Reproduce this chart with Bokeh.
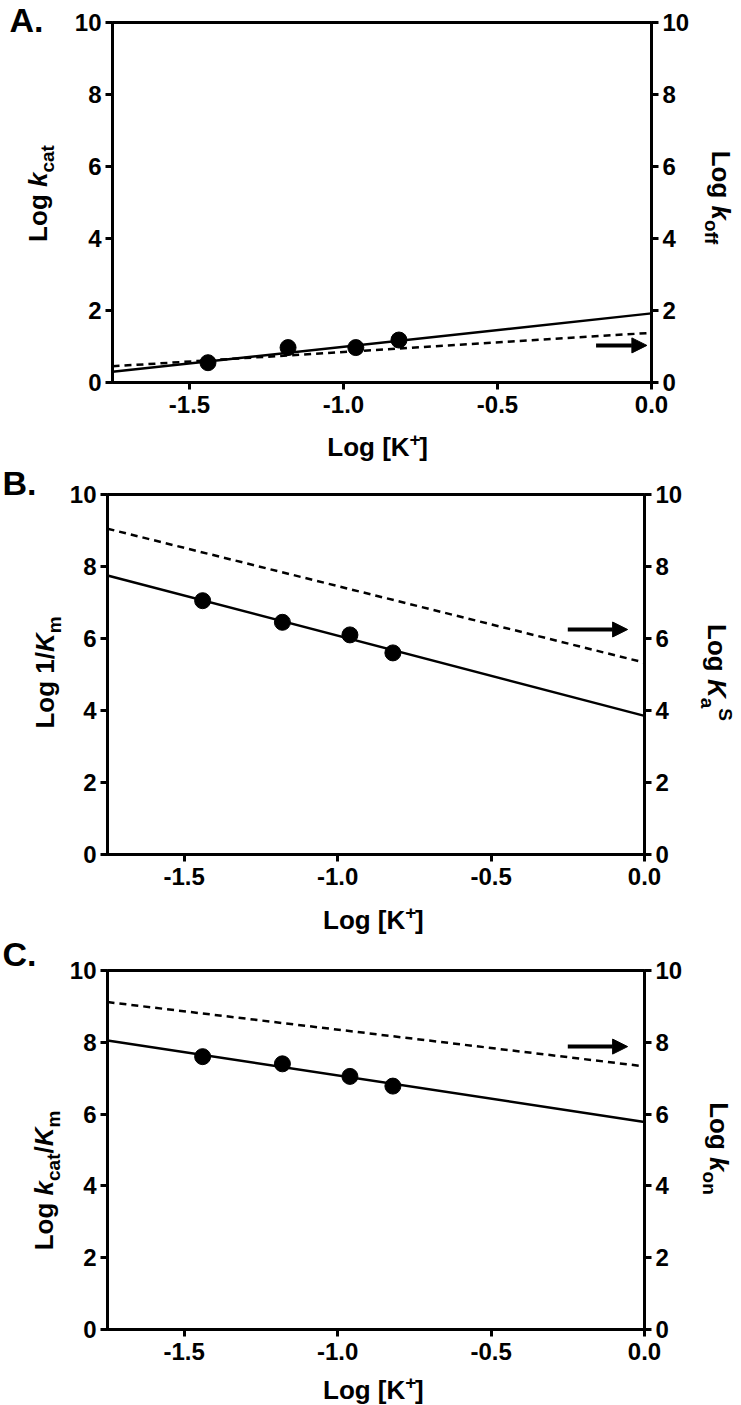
from bokeh.plotting import figure
from bokeh.layouts import column, row
from bokeh.models import Label, Arrow, NormalHead, LinearAxis, FixedTicker, Range1d
from bokeh.embed import file_html
from bokeh.resources import INLINE

# ---------------- data ----------------
log_k = [-1.44, -1.18, -0.96, -0.82]          # Log [K+]
fit_x = [-1.75, 0.0]

a_kcat = [0.55, 0.97, 0.97, 1.18]
a_solid = [0.30, 1.92]
a_dashed = [0.45, 1.38]

b_km = [7.05, 6.45, 6.10, 5.60]
b_solid = [7.75, 3.85]
b_dashed = [9.05, 5.33]

c_ratio = [7.60, 7.40, 7.05, 6.78]
c_solid = [8.05, 5.78]
c_dashed = [9.12, 7.33]

x_ticks = [-1.5, -1.0, -0.5, 0.0]
x_tick_labels = {-1.5: "-1.5", -1.0: "-1.0", -0.5: "-0.5", 0.0: "0.0"}
y_ticks = [0, 2, 4, 6, 8, 10]

FONT = "Liberation Sans"
W = {' ': 278, 'L': 611, 'o': 611, 'g': 611, 'k': 556, 'c': 556, 'a': 556, 't': 333,
     'f': 333, 'n': 611, 'm': 889, 'K': 722, 'S': 667, '1': 556, '/': 278, '[': 333,
     ']': 333, '+': 584, 'A': 722, 'B': 722, 'C': 722, '.': 278}

BORDER_SIDE = 40
MID = 0.33   # em distance of the "middle" anchor above the baseline


def tw(text, size):
    return sum(W.get(ch, 556) for ch in text) / 1000.0 * size


def main_panel(fl, fr, fig_top, ft, fb, bb, xs, ys, solid, dashed, arrow):
    w = (fr - fl) + 2 * BORDER_SIDE
    h = (ft - fig_top) + (fb - ft) + bb
    p = figure(width=w, height=h, x_range=Range1d(-1.75, 0.0), y_range=Range1d(0, 10),
               output_backend="svg", toolbar_location=None,
               min_border_left=BORDER_SIDE, min_border_right=BORDER_SIDE,
               min_border_top=ft - fig_top, min_border_bottom=bb)
    p.xgrid.visible = False
    p.ygrid.visible = False
    p.outline_line_color = "black"
    p.outline_line_width = 3
    p.outline_line_alpha = 1
    p.background_fill_color = "white"
    p.border_fill_color = "white"

    p.add_layout(LinearAxis(), "right")
    for ax in p.axis:
        ax.axis_line_width = 3
        ax.axis_line_color = "black"
        ax.major_tick_line_width = 3
        ax.major_tick_in = 0
        ax.major_tick_out = 7
        ax.minor_tick_line_color = None
        ax.major_label_text_font = FONT
        ax.major_label_text_font_style = "bold"
        ax.major_label_text_font_size = "24px"
        ax.major_label_text_color = "black"
    for ax in p.yaxis:
        ax.ticker = FixedTicker(ticks=y_ticks)
        ax.major_label_standoff = 4
    for ax in p.xaxis:
        ax.ticker = FixedTicker(ticks=x_ticks)
        ax.major_label_overrides = x_tick_labels
        ax.major_label_standoff = 6

    p.line(fit_x, dashed, line_color="black", line_width=2.5, line_dash="7 5")
    p.line(fit_x, solid, line_color="black", line_width=2.5)
    p.scatter(xs, ys, size=16, color="black")

    ax0, ax1, ay = arrow
    p.add_layout(Arrow(end=NormalHead(size=15, fill_color="black", line_color="black", line_width=1),
                       x_start=ax0, y_start=ay, x_end=ax1, y_end=ay,
                       line_width=4, line_color="black"))
    return p


def text_fig(left, top, w, h):
    p = figure(width=w, height=h, x_range=Range1d(0, w), y_range=Range1d(0, h),
               output_backend="svg", toolbar_location=None, min_border=0,
               x_axis_location=None, y_axis_location=None)
    p.xgrid.visible = False
    p.ygrid.visible = False
    p.outline_line_color = None
    p.background_fill_color = "white"
    p.border_fill_color = "white"
    p._pg = (left, top, w, h)
    return p


def comp_label(p, X, Y, pieces, orient, anchor=None):
    """Page coords. pieces: (text, size, italic, raise_px). orient: 'h', 'hl', 'up', 'down'.
    'h': X center, Y baseline; 'hl': X left, Y baseline; rotated: X baseline, Y center.
    Pieces before `anchor` are right-aligned against the anchor point, the rest left-aligned."""
    left, top, w, h = p._pg
    n = len(pieces)
    if anchor is None:
        anchor = n if orient != 'hl' else 0
    widths = [tw(t, s) for t, s, it, sh in pieces]
    L = sum(widths)
    start = 0.0 if orient == 'hl' else -L / 2
    A = start + sum(widths[:anchor])
    for i, (t, s, it, sh) in enumerate(pieces):
        if i < anchor:
            pos = A - sum(widths[i + 1:anchor])
            align = "right"
        else:
            pos = A + sum(widths[anchor:i])
            align = "left"
        up = sh + MID * s
        if orient in ('h', 'hl'):
            PX, PY, ang = X + pos, Y - up, 0.0
        elif orient == 'up':
            PX, PY, ang = X - up, Y - pos, 1.5707963
        else:
            PX, PY, ang = X + up, Y + pos, -1.5707963
        p.add_layout(Label(x=PX - left, y=h - (PY - top), text=t, angle=ang, text_align=align,
                           text_baseline="middle", text_font=FONT,
                           text_font_size=f"{s}px",
                           text_font_style="bold italic" if it else "bold",
                           text_color="black"))


TS = 26
SUB = 19
PAGE_L, PAGE_R = 0, 741


def build_panel(fl, fr, top, bottom, ft, fb, bb, xs, ys, solid, dashed, arrow):
    mainp = main_panel(fl, fr, top, ft, fb, bb, xs, ys, solid, dashed, arrow)
    mleft = fl - BORDER_SIDE
    mright = fr + BORDER_SIDE
    mbottom = fb + bb
    leftf = text_fig(PAGE_L, top, mleft - PAGE_L, bottom - top)
    rightf = text_fig(mright, top, PAGE_R - mright, bottom - top)
    botf = text_fig(mleft, mbottom, mright - mleft, bottom - mbottom)
    return mainp, leftf, rightf, botf


xtitle = [("Log [K", TS, False, 0), ("+", SUB, False, 10), ("]", TS, False, 0)]

# Panel A
mA, lA, rA, bA = build_panel(111, 652, 0, 462, 22, 382, 45, log_k, a_kcat, a_solid, a_dashed,
                             (-0.18, -0.015, 1.03))
comp_label(lA, 9, 31, [("A.", 34, False, 0)], 'hl')
comp_label(lA, 46, 193, [("Log ", TS, False, 0), ("k", TS, True, 0), ("cat", SUB, False, -7)], 'up', 2)
comp_label(rA, 712, 197, [("Log ", TS, False, 0), ("k", TS, True, 0), ("off", SUB, False, -7)], 'down', 2)
comp_label(bA, 382, 455, xtitle, 'h', 1)

# Panel B
mB, lB, rB, bB = build_panel(106, 645, 462, 934, 494, 854, 45, log_k, b_km, b_solid, b_dashed,
                             (-0.25, -0.055, 6.25))
comp_label(lB, 2, 494, [("B.", 34, False, 0)], 'hl')
comp_label(lB, 53, 672, [("Log 1/", TS, False, 0), ("K", TS, True, 0), ("m", SUB, False, -7)], 'up', 2)
comp_label(rB, 708, 672, [("Log ", TS, False, 0), ("K", TS, True, 0), ("a", SUB, False, -7),
                          ("S", SUB, False, 11)], 'down', 2)
comp_label(bB, 378, 928, xtitle, 'h', 1)

# Panel C
mC, lC, rC, bC = build_panel(106, 645, 934, 1405, 970, 1329, 41, log_k, c_ratio, c_solid, c_dashed,
                             (-0.25, -0.055, 7.88))
comp_label(lC, 2, 965, [("C.", 34, False, 0)], 'hl')
comp_label(lC, 52, 1180, [("Log ", TS, False, 0), ("k", TS, True, 0), ("cat", SUB, False, -7),
                          ("/", TS, False, 0), ("K", TS, True, 0), ("m", SUB, False, -7)], 'up', 2)
comp_label(rC, 710, 1148, [("Log ", TS, False, 0), ("k", TS, True, 0), ("on", SUB, False, -7)], 'down', 2)
comp_label(bC, 378, 1398, xtitle, 'h', 1)

layout = column(
    row(lA, column(mA, bA, spacing=0), rA, spacing=0),
    row(lB, column(mB, bB, spacing=0), rB, spacing=0),
    row(lC, column(mC, bC, spacing=0), rC, spacing=0),
    spacing=0,
)
open("out.html", "w").write(file_html(layout, INLINE))
